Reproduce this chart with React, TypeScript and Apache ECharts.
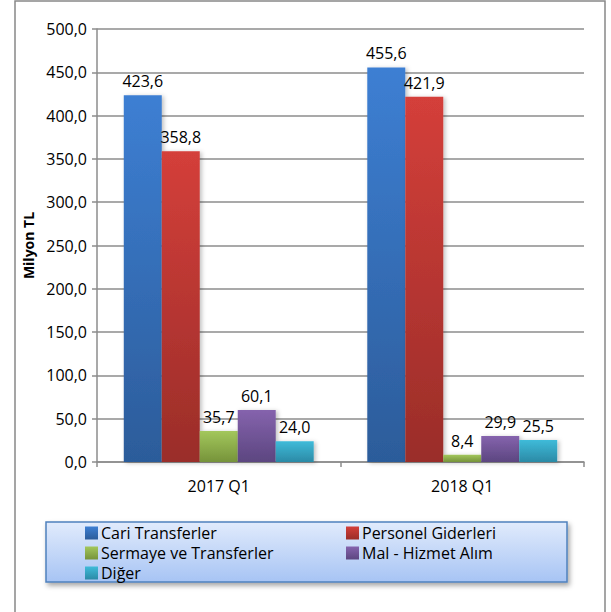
import React, { useEffect, useRef } from "react";
import * as echarts from "echarts";

const categories = ["2017 Q1", "2018 Q1"];
const seriesNames = ["Cari Transferler", "Personel Giderleri", "Sermaye ve Transferler", "Mal - Hizmet Alım", "Diğer"];
const cariTransferler = [423.6, 455.6];
const personelGiderleri = [358.8, 421.9];
const sermayeTransferler = [35.7, 8.4];
const malHizmetAlim = [60.1, 29.9];
const diger = [24.0, 25.5];
const yTicks = { min: 0, max: 500, interval: 50 };

const colorsTop = ["#3d7fd3", "#d43f3a", "#a3c75c", "#8563ad", "#3fbbd9"];
const colorsBottom = ["#2c5c9a", "#9a2d29", "#76933a", "#5c4680", "#2b8aa6"];

const FONT = "'Open Sans', 'Noto Sans', sans-serif";

function fmt(v: number) {
  return v.toFixed(1).replace(".", ",");
}

export default function App() {
  const ref = useRef<HTMLDivElement>(null);
  useEffect(() => {
    if (!ref.current) return;
    const chart = echarts.init(ref.current, null, { renderer: "svg" });
    const data = [cariTransferler, personelGiderleri, sermayeTransferler, malHizmetAlim, diger];
    const series = data.map((d, i) => ({
      name: seriesNames[i],
      type: "bar",
      data: d,
      barGap: "0%",
      barCategoryGap: "22%",
      itemStyle: {
        color: new echarts.graphic.LinearGradient(0, 0, 0, 1, [
          { offset: 0, color: colorsTop[i] },
          { offset: 1, color: colorsBottom[i] },
        ]),
        shadowColor: "rgba(0,0,0,0.25)",
        shadowBlur: 4,
        shadowOffsetX: 2,
        shadowOffsetY: 1,
      },
      label: {
        show: true,
        position: "top",
        distance: 6,
        color: "#000",
        fontSize: 16,
        fontFamily: FONT,
        formatter: (p: any) => fmt(p.value),
      },
    }));
    const legendCommon = {
      orient: "vertical",
      top: 525,
      padding: 0,
      itemWidth: 13,
      itemHeight: 13,
      itemGap: 4,
      icon: "rect",
      textStyle: { color: "#000", fontSize: 16, lineHeight: 16, fontFamily: FONT, padding: [0, 0, 0, -2] },
    };
    chart.setOption({
      animation: false,
      backgroundColor: "#fff",
      grid: { left: 97, right: 27, top: 29, bottom: 150 },
      xAxis: {
        type: "category",
        data: categories,
        axisLine: { lineStyle: { color: "#8c8c8c", width: 1.5 } },
        axisTick: { show: true, length: 5, lineStyle: { color: "#8c8c8c", width: 1.5 } },
        axisLabel: { color: "#000", fontSize: 16, fontFamily: FONT, margin: 16 },
      },
      yAxis: {
        type: "value",
        min: yTicks.min,
        max: yTicks.max,
        interval: yTicks.interval,
        name: "Milyon TL",
        nameLocation: "middle",
        nameGap: 58,
        nameTextStyle: { color: "#000", fontSize: 14, fontWeight: "bold", fontFamily: FONT },
        axisLine: { show: true, lineStyle: { color: "#8c8c8c", width: 1.5 } },
        axisTick: { show: true, length: 5, lineStyle: { color: "#8c8c8c", width: 1.5 } },
        splitLine: { lineStyle: { color: "#8c8c8c", width: 1.5 } },
        axisLabel: { color: "#000", fontSize: 16, fontFamily: FONT, margin: 10, formatter: (v: number) => fmt(v) },
      },
      legend: [
        { ...legendCommon, left: 85, data: [seriesNames[0], seriesNames[2], seriesNames[4]] },
        { ...legendCommon, left: 346, data: [seriesNames[1], seriesNames[3]] },
      ],
      graphic: [
        {
          type: "rect",
          z: -10,
          silent: true,
          shape: { x: 15, y: 1, width: 590, height: 620 },
          style: { fill: "none", stroke: "#888", lineWidth: 1.5 },
        },
        {
          type: "rect",
          z: -5,
          silent: true,
          shape: { x: 46, y: 522, width: 521, height: 60 },
          style: {
            fill: new echarts.graphic.LinearGradient(0, 0, 0, 1, [
              { offset: 0, color: "#e1ebfc" },
              { offset: 1, color: "#a7c4f4" },
            ]),
            stroke: "#4f81bd",
            lineWidth: 1.5,
            shadowColor: "rgba(0,0,0,0.35)",
            shadowBlur: 5,
            shadowOffsetX: 2,
            shadowOffsetY: 3,
          },
        },
      ],
      series,
    });
    return () => chart.dispose();
  }, []);
  return <div ref={ref} style={{ position: "absolute", left: 0, top: 0, width: 611, height: 612 }} />;
}
